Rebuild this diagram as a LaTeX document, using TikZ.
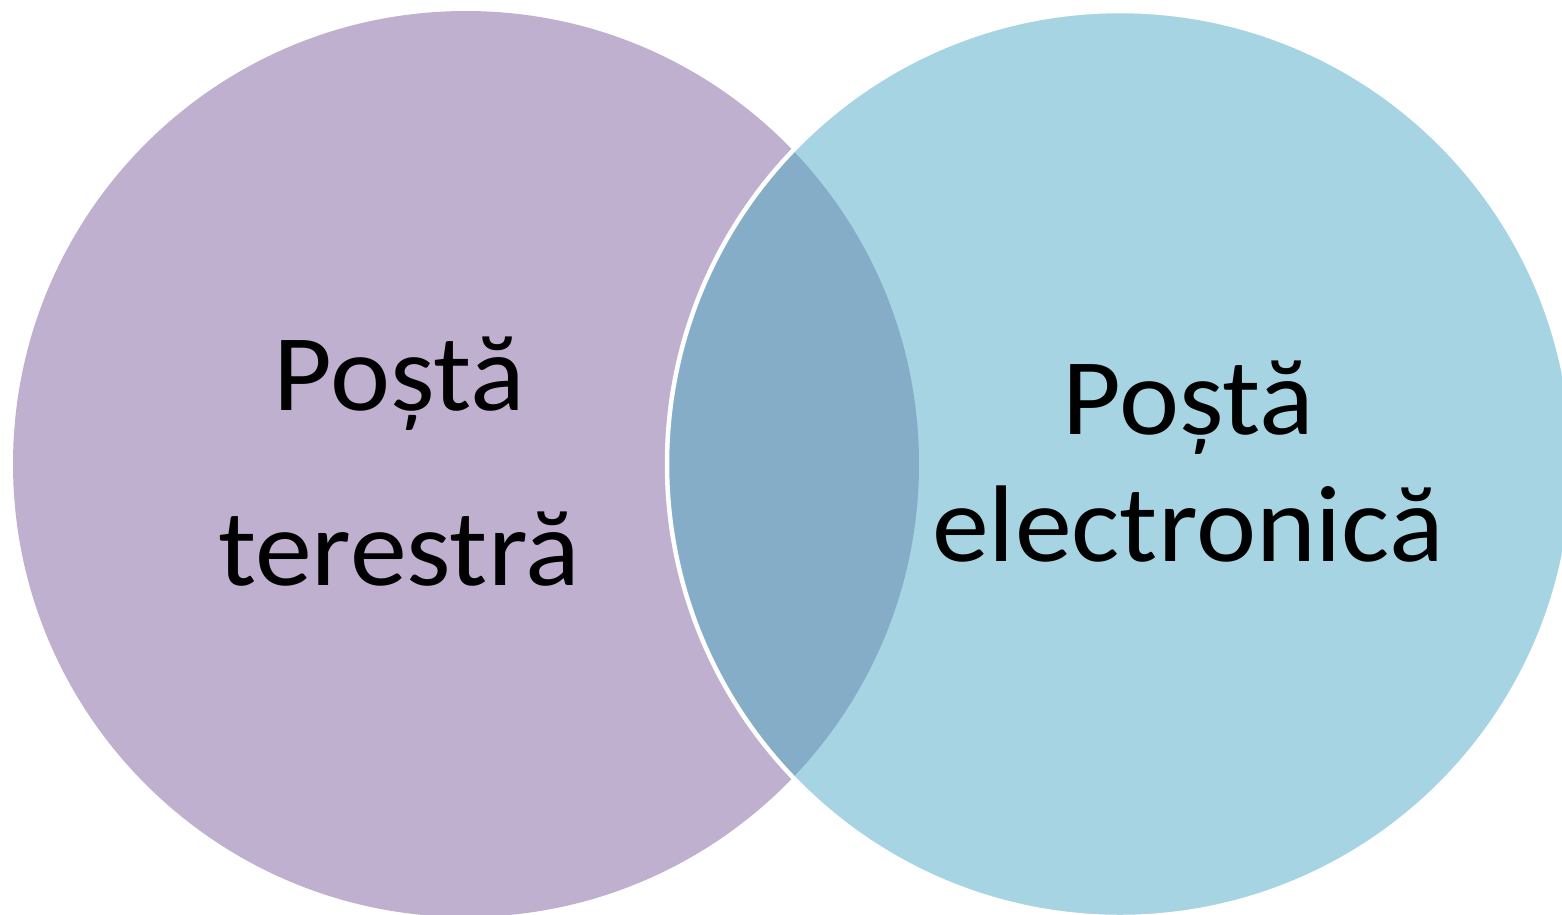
\documentclass[tikz,border=0pt]{standalone}
\usepackage{fontspec}
\setmainfont{Carlito}
\newfontfamily\labelfont[FakeStretch=1.045]{Carlito}
\definecolor{lpurple}{RGB}{191,176,208}
\definecolor{lblue}{RGB}{166,212,226}
\definecolor{overlap}{RGB}{134,173,200}
\tikzset{label text/.style={align=center, text=black, inner sep=0pt}}
\begin{document}
\begin{tikzpicture}[x=1pt,y=-1pt]
\useasboundingbox (0,0) rectangle (1562,914);
\coordinate (cl) at (466,464);
\coordinate (cr) at (1120,464);
\fill[lpurple] (cl) circle[radius=453];
\fill[lblue] (cr) circle[radius=453];
\begin{scope}
\clip (cl) circle[radius=453];
\fill[overlap] (cr) circle[radius=453];
\end{scope}
\draw[white, line width=4.5pt] (cr) circle[radius=453];
\node[label text, font=\labelfont\fontsize{109}{175}\selectfont] (left) at (399,462) {Poștă\\terestră};
\node[label text, font=\labelfont\fontsize{109}{127}\selectfont] (right) at (1188,462) {Poștă\\electronică};
\end{tikzpicture}
\end{document}
